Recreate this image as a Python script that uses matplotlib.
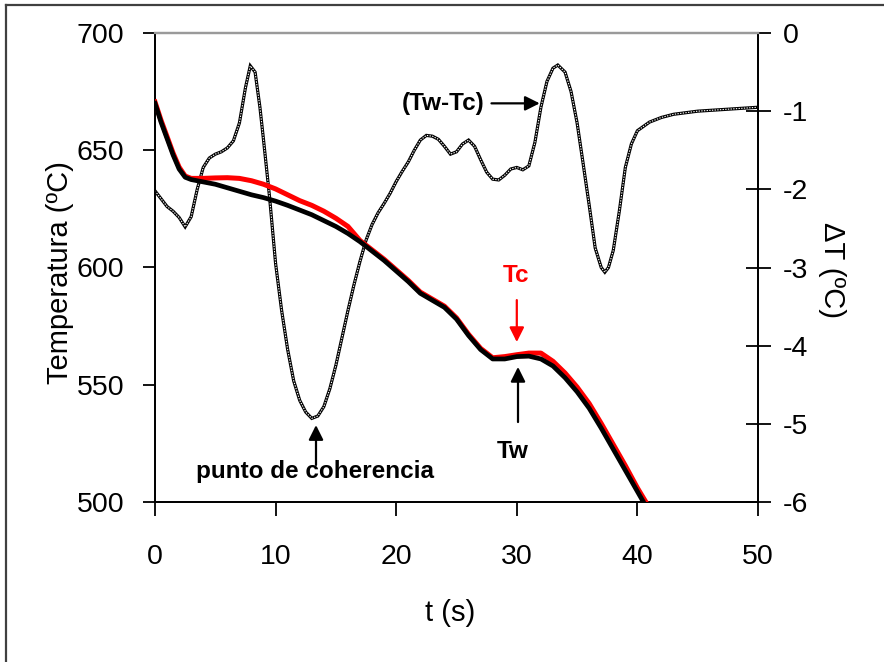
import matplotlib
matplotlib.use("Agg")
import matplotlib.pyplot as plt
from matplotlib.lines import Line2D
from matplotlib import font_manager

# Temperature curves: Tw (wall) and Tc (centre)
t_w = [0, 0.5, 1, 1.5, 2, 2.5, 3, 4, 5, 6, 7, 8, 9, 10, 11, 12, 13, 14, 15, 16,
       17, 18, 19, 20, 21, 22, 23, 24, 25, 26, 27, 28, 29, 30, 31, 32, 33, 34,
       35, 36, 37, 38, 39, 40, 40.5]
temp_w = [670, 662, 655, 648, 642, 638.5, 637.5, 636.5, 635.5, 634, 632.5, 631,
          629.8, 628.3, 626.5, 624.5, 622.5, 620, 617.5, 614.5, 611, 607, 603,
          598.5, 594, 589, 586, 583, 578, 571, 565, 561, 561, 562, 562.2, 561,
          558, 553, 547, 540, 531.5, 522.5, 513.5, 504.5, 500]

t_c = [0, 0.5, 1, 1.5, 2, 2.5, 3, 4, 5, 6, 7, 8, 9, 10, 11, 12, 13, 14, 15, 16,
       17, 18, 19, 20, 21, 22, 23, 24, 25, 26, 27, 28, 29, 30, 31, 32, 33, 34,
       35, 36, 37, 38, 39, 40, 40.7]
temp_c = [670.6, 662.8, 655.8, 648.8, 642.8, 639, 638, 638, 638.2, 638.3, 638,
          637, 635.5, 633.5, 631, 628.5, 626.5, 624, 621, 617.5, 611.5, 607.5,
          603.5, 599, 594.5, 589.5, 586.5, 583.5, 578.5, 571.5, 565.5, 561.5,
          562, 562.8, 563.5, 563.5, 560, 555, 549, 542, 533.5, 524.5, 515.5,
          506, 500]

# Temperature difference (Tw - Tc)
t_d = [0.0, 0.5, 1.0, 1.5, 2.0, 2.5, 3.0, 3.5, 4.0, 4.5, 5.0, 5.5, 6.0, 6.5,
       7.0, 7.5, 7.9, 8.3, 8.7, 9.0, 9.5, 10.0, 10.5, 11.0, 11.5, 12.0, 12.5,
       13.0, 13.5, 14.0, 14.5, 15.0, 15.5, 16.0, 16.5, 17.0, 17.5, 18.0, 18.5,
       19.0, 19.5, 20.0, 20.5, 21.0, 21.5, 22.0, 22.5, 23.0, 23.5, 24.0, 24.5,
       25.0, 25.5, 26.0, 26.5, 27.0, 27.5, 28.0, 28.5, 29.0, 29.5, 30.0, 30.5,
       31.0, 31.5, 32.0, 32.5, 33.0, 33.4, 34.0, 34.5, 35.0, 35.5, 36.0, 36.5,
       37.0, 37.3, 37.6, 38.0, 38.5, 39.0, 39.5, 40.0, 41.0, 42.0, 43.0, 44.0,
       45.0, 46.0, 47.0, 48.0, 49.0, 50.0]
delta_t = [-2.02, -2.12, -2.22, -2.28, -2.36, -2.48, -2.35, -2.0, -1.72, -1.6,
           -1.55, -1.52, -1.47, -1.38, -1.15, -0.7, -0.42, -0.5, -0.95, -1.37,
           -2.1, -2.95, -3.55, -4.05, -4.45, -4.7, -4.85, -4.93, -4.9, -4.78,
           -4.55, -4.25, -3.9, -3.55, -3.22, -2.92, -2.65, -2.45, -2.3, -2.18,
           -2.05, -1.9, -1.77, -1.65, -1.5, -1.37, -1.31, -1.32, -1.36, -1.45,
           -1.55, -1.52, -1.42, -1.37, -1.45, -1.62, -1.78, -1.87, -1.88, -1.82,
           -1.74, -1.72, -1.75, -1.7, -1.4, -0.95, -0.62, -0.45, -0.41, -0.5,
           -0.75, -1.15, -1.67, -2.2, -2.75, -3.0, -3.06, -3.0, -2.78, -2.28,
           -1.72, -1.42, -1.25, -1.14, -1.08, -1.04, -1.02, -1.0, -0.99, -0.98,
           -0.97, -0.96, -0.95]

x_ticks = [0, 10, 20, 30, 40, 50]
left_ticks = [500, 550, 600, 650, 700]
right_ticks = [0, -1, -2, -3, -4, -5, -6]

installed = {f.name for f in font_manager.fontManager.ttflist}
narrow = "Liberation Sans Narrow" if "Liberation Sans Narrow" in installed else "Liberation Sans"
plt.rcParams["font.family"] = [narrow, "DejaVu Sans"]

fig = plt.figure(figsize=(8.84, 6.62), dpi=100)
ax = fig.add_axes([155 / 884, 1 - 502 / 662, 603 / 884, 469 / 662])
ax2 = ax.twinx()

# Outer frame of the figure
fig.add_artist(Line2D([5.5 / 884, 5.5 / 884], [0, 1 - 5 / 662], transform=fig.transFigure,
                      color="#404040", lw=1.6))
fig.add_artist(Line2D([5.5 / 884, 1], [1 - 5 / 662, 1 - 5 / 662], transform=fig.transFigure,
                      color="#404040", lw=1.6))

# Difference curve on the right axis
ax2.plot(t_d, delta_t, color="black", lw=2.3, solid_joinstyle="miter", zorder=2)
ax2.plot(t_d, delta_t, color="white", lw=0.8, dashes=(1.2, 1.2), zorder=3)

# Temperature curves on the left axis
ax.plot(t_c, temp_c, color="#ff0000", lw=3.6, zorder=3)
ax.plot(t_w, temp_w, color="black", lw=3.4, zorder=4)
ax.set_zorder(ax2.get_zorder() + 1)
ax.patch.set_visible(False)

ax.set_xlim(0, 50)
ax.set_ylim(500, 700)
ax2.set_ylim(-6, 0)
ax.set_xticks(x_ticks)
ax.set_yticks(left_ticks)
ax2.set_yticks(right_ticks)
ax2.set_yticklabels([str(v) for v in right_ticks])

for a in (ax, ax2):
    for side in ("left", "right", "bottom"):
        a.spines[side].set_color("black")
        a.spines[side].set_linewidth(1.3)
    a.spines["top"].set_color("#9a9a9a")
    a.spines["top"].set_linewidth(1.6)

ax.tick_params(axis="y", direction="out", length=9, width=1.3, pad=13, labelsize=20.5)
ax.tick_params(axis="x", direction="out", length=10, width=1.3, pad=20, labelsize=20.5)
ax2.tick_params(axis="y", direction="inout", length=18, width=1.3, pad=9, labelsize=20.5)

ax.set_ylabel("Temperatura (ºC)", fontsize=21)
ax.yaxis.set_label_coords(-0.135, 0.49)
ax2.set_ylabel("ΔT (ºC)", fontsize=21, rotation=270, va="center")
ax2.yaxis.set_label_coords(1.123, 0.495)
ax.set_xlabel("t (s)", fontsize=21)
ax.xaxis.set_label_coords(0.49, -0.207)

bold = dict(fontsize=17.5, fontweight="bold")
head = dict(arrowstyle="-|>", mutation_scale=22, lw=1.6, shrinkA=0, shrinkB=0)

ax2.annotate("", xy=(31.9, -0.9), xytext=(27.9, -0.9),
             arrowprops=dict(head, color="black"))
ax2.text(23.9, -0.9, "(Tw-Tc)", ha="center", va="center", **bold)

ax.annotate("", xy=(30.0, 568.2), xytext=(30.0, 586.1),
            arrowprops=dict(head, color="#ff0000"), zorder=6)
ax.text(29.9, 596.8, "Tc", ha="center", va="center", color="#ff0000", **bold)

ax.annotate("", xy=(30.1, 557.6), xytext=(30.1, 534.1),
            arrowprops=dict(head, color="black"), zorder=6)
ax.text(29.7, 521.7, "Tw", ha="center", va="center", **bold)

ax.annotate("", xy=(13.35, 532.8), xytext=(13.35, 515.8),
            arrowprops=dict(head, color="black"), zorder=6)
ax.text(13.3, 512.8, "punto de coherencia", ha="center", va="center", **bold)

fig.savefig("out.png", dpi=100)
